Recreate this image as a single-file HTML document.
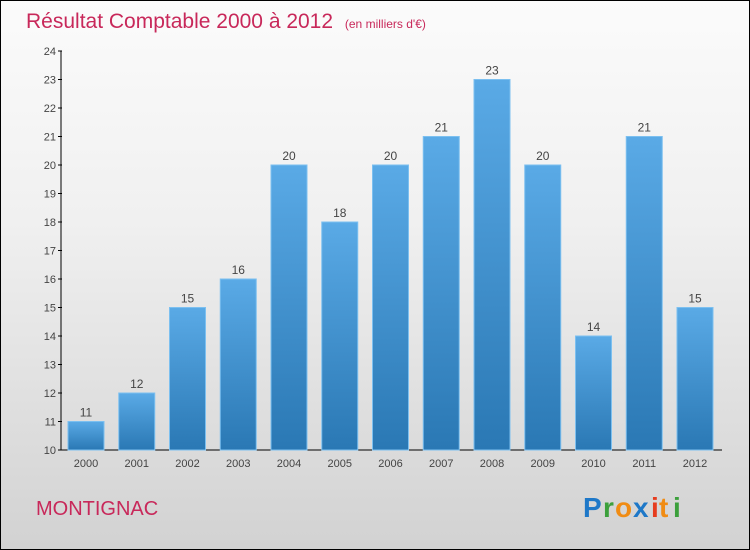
<!DOCTYPE html>
<html><head><meta charset="utf-8"><style>
body{margin:0}
#c{position:relative;width:748px;height:548px;border:1px solid #000;background:linear-gradient(#fbfbfb,#f0f0f0 40%,#d2d2d2);font-family:"Liberation Sans",sans-serif;overflow:hidden}
</style></head><body>
<div id="c">
<svg width="748" height="548" id="svg">
<defs><linearGradient id="bg" x1="0" y1="0" x2="0" y2="1"><stop offset="0" stop-color="#5aaae6"/><stop offset="1" stop-color="#2a78b4"/></linearGradient></defs>
<text x="25" y="27" font-size="21" fill="#c8285a">Résultat Comptable 2000 à 2012 <tspan font-size="12" dx="6">(en milliers d'€)</tspan></text>
<text x="35" y="514" font-size="20" fill="#c8285a">MONTIGNAC</text>
<g font-size="28" font-weight="bold" font-family="Liberation Sans,sans-serif">
<text x="582" y="516" fill="#1e78c8">P</text><text x="602" y="516" fill="#3ca03c">r</text><text x="614" y="516" fill="#f08c14">o</text><text x="632" y="516" fill="#1e78c8">x</text><text x="650" y="516" fill="#e63c1e">i</text><text x="658" y="516" fill="#f08c14">t</text><text x="672" y="516" fill="#3ca03c">i</text>
</g>
<g id="axes"></g><g id="bars"></g>
</svg></div>
<script>
const years=["2000","2001","2002","2003","2004","2005","2006","2007","2008","2009","2010","2011","2012"];
const values=[11,12,15,16,20,18,20,21,23,20,14,21,15];
const yTicks=[10,11,12,13,14,15,16,17,18,19,20,21,22,23,24];
const NS="http://www.w3.org/2000/svg";
const y0=449,y1=50,vmin=10,vmax=24;
const y=v=>y0-(v-vmin)/(vmax-vmin)*(y0-y1);
const x=i=>85+i*50.75;
const ax=document.getElementById('axes'),bg=document.getElementById('bars');
function mk(t,a,p){const e=document.createElementNS(NS,t);for(const k in a)e.setAttribute(k,a[k]);p.appendChild(e);return e;}
let l=mk('line',{x1:60,y1:y1,x2:60,y2:y0,stroke:'#000'},ax);


l=mk('line',{x1:60,y1:y0,x2:721,y2:y0,stroke:'#000'},ax);


yTicks.forEach(v=>{
 mk('line',{x1:57,x2:61,y1:y(v),y2:y(v),stroke:'#000'},ax);
 const t=mk('text',{x:55,y:y(v)+4,'text-anchor':'end','font-size':11,fill:'#444'},ax);
 t.textContent=v;
 
 
});
years.forEach((yr,i)=>{
 const t=mk('text',{x:x(i),y:466,'text-anchor':'middle','font-size':11,fill:'#444'},ax);
 t.textContent=yr;
 
 
 const r=mk('rect',{x:x(i)-18,y:y(values[i]),width:36,height:y0-y(values[i]),fill:'url(#bg)',stroke:'#7cc0f0','stroke-width':1},bg);
 
 
 const lb=mk('text',{x:x(i),y:y(values[i])-5,'text-anchor':'middle','font-size':12,fill:'#444'},bg);
 lb.textContent=values[i];
 
 
});
</script>
</body></html>
